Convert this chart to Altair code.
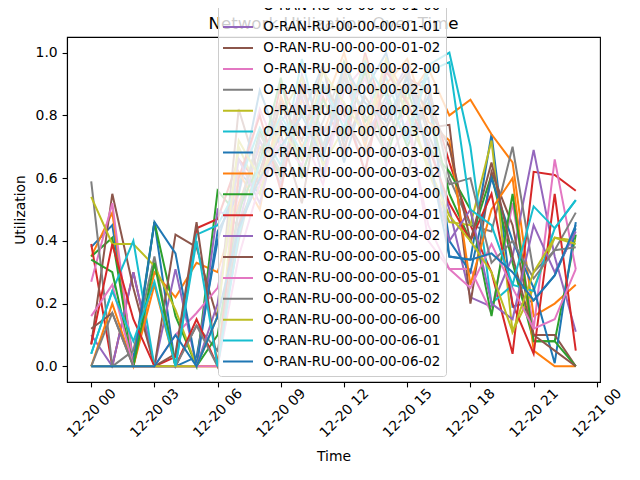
import pandas as pd
import altair as alt

# hourly samples, 12-20 00:00 .. 12-20 23:00
hours = pd.date_range("2024-12-20 00:00", periods=24, freq="h")

names = [
    "O-RAN-RU-00-00-00-00-00", "O-RAN-RU-00-00-00-00-01", "O-RAN-RU-00-00-00-00-02",
    "O-RAN-RU-00-00-00-01-00", "O-RAN-RU-00-00-00-01-01", "O-RAN-RU-00-00-00-01-02",
    "O-RAN-RU-00-00-00-02-00", "O-RAN-RU-00-00-00-02-01", "O-RAN-RU-00-00-00-02-02",
    "O-RAN-RU-00-00-00-03-00", "O-RAN-RU-00-00-00-03-01", "O-RAN-RU-00-00-00-03-02",
    "O-RAN-RU-00-00-00-04-00", "O-RAN-RU-00-00-00-04-01", "O-RAN-RU-00-00-00-04-02",
    "O-RAN-RU-00-00-00-05-00", "O-RAN-RU-00-00-00-05-01", "O-RAN-RU-00-00-00-05-02",
    "O-RAN-RU-00-00-00-06-00", "O-RAN-RU-00-00-00-06-01", "O-RAN-RU-00-00-00-06-02",
]

ru_00_00 = [0.38, 0.45, 0.02, 0.46, 0.00, 0.03, 0.40, 0.62, 0.55, 0.78, 0.66, 0.90, 0.72, 0.95, 0.80, 0.88, 0.92, 0.35, 0.34, 0.74, 0.19, 0.21, 0.29, 0.44]
ru_00_01 = [0.35, 0.49, 0.00, 0.30, 0.22, 0.33, 0.30, 0.52, 0.70, 0.62, 0.85, 0.74, 0.93, 0.70, 0.98, 0.85, 0.95, 0.80, 0.85, 0.74, 0.65, 0.16, 0.20, 0.26]
ru_00_02 = [0.35, 0.41, 0.00, 0.46, 0.16, 0.00, 0.56, 0.48, 0.75, 0.60, 0.82, 0.66, 0.97, 0.78, 0.88, 0.70, 0.84, 0.55, 0.40, 0.61, 0.33, 0.08, 0.08, 0.42]
ru_01_00 = [0.39, 0.00, 0.30, 0.00, 0.03, 0.44, 0.47, 0.66, 0.58, 0.90, 0.75, 0.86, 0.68, 1.00, 0.78, 0.92, 0.88, 0.65, 0.45, 0.30, 0.04, 0.62, 0.61, 0.56]
ru_01_01 = [0.10, 0.00, 0.30, 0.00, 0.31, 0.00, 0.50, 0.45, 0.72, 0.58, 0.93, 0.74, 0.84, 0.62, 0.96, 0.80, 0.72, 0.50, 0.22, 0.19, 0.35, 0.69, 0.35, 0.11]
ru_01_02 = [0.07, 0.55, 0.25, 0.00, 0.42, 0.38, 0.15, 0.82, 0.60, 0.74, 0.52, 0.90, 0.80, 0.68, 0.84, 0.94, 0.76, 0.77, 0.20, 0.62, 0.45, 0.10, 0.10, 0.00]
ru_02_00 = [0.27, 0.52, 0.00, 0.00, 0.10, 0.17, 0.25, 0.55, 0.82, 0.66, 0.75, 0.58, 0.88, 0.96, 0.64, 0.78, 0.45, 0.31, 0.31, 0.17, 0.52, 0.12, 0.66, 0.31]
ru_02_01 = [0.59, 0.00, 0.05, 0.35, 0.00, 0.13, 0.05, 0.40, 0.68, 0.85, 0.62, 0.78, 0.95, 0.72, 0.86, 0.60, 0.90, 0.60, 0.45, 0.43, 0.70, 0.30, 0.37, 0.49]
ru_02_02 = [0.54, 0.39, 0.39, 0.32, 0.18, 0.00, 0.00, 0.70, 0.55, 0.80, 0.92, 0.64, 0.76, 0.98, 0.70, 0.85, 0.62, 0.46, 0.45, 0.72, 0.11, 0.25, 0.41, 0.40]
ru_03_00 = [0.04, 0.24, 0.40, 0.00, 0.00, 0.42, 0.45, 0.58, 0.76, 0.64, 0.98, 0.70, 0.90, 0.82, 0.92, 0.74, 0.96, 1.00, 0.70, 0.20, 0.26, 0.24, 0.44, 0.53]
ru_03_01 = [0.00, 0.00, 0.00, 0.46, 0.36, 0.00, 0.43, 0.55, 0.88, 0.70, 0.80, 0.96, 0.65, 0.88, 1.00, 0.72, 0.86, 0.40, 0.30, 0.60, 0.40, 0.25, 0.01, 0.46]
ru_03_02 = [0.00, 0.20, 0.00, 0.26, 0.00, 0.00, 0.00, 0.62, 0.50, 0.86, 0.70, 0.82, 1.00, 0.76, 0.90, 0.98, 0.78, 0.72, 0.26, 0.50, 0.60, 0.05, 0.00, 0.00]
ru_04_00 = [0.34, 0.30, 0.00, 0.33, 0.00, 0.00, 0.10, 0.50, 0.65, 0.92, 0.60, 0.85, 0.74, 0.94, 0.66, 0.88, 0.70, 0.62, 0.50, 0.16, 0.55, 0.08, 0.08, 0.00]
ru_04_01 = [0.07, 0.39, 0.15, 0.00, 0.00, 0.15, 0.00, 0.60, 0.80, 0.56, 0.90, 0.68, 0.82, 0.62, 0.94, 0.84, 0.70, 0.52, 0.40, 0.55, 0.20, 0.04, 0.55, 0.05]
ru_04_02 = [0.00, 0.00, 0.00, 0.00, 0.00, 0.00, 0.20, 0.66, 0.52, 0.78, 0.86, 0.60, 0.92, 0.74, 0.84, 0.96, 0.66, 0.40, 0.50, 0.20, 0.15, 0.45, 0.30, 0.43]
ru_05_00 = [0.12, 0.17, 0.00, 0.00, 0.04, 0.46, 0.00, 0.45, 0.62, 0.84, 0.72, 0.96, 0.70, 0.86, 0.76, 0.90, 0.82, 0.70, 0.40, 0.65, 0.35, 0.10, 0.05, 0.00]
ru_05_01 = [0.16, 0.26, 0.00, 0.00, 0.00, 0.00, 0.00, 0.35, 0.58, 0.72, 0.64, 0.88, 0.78, 0.92, 0.70, 0.82, 0.40, 0.31, 0.25, 0.39, 0.25, 0.12, 0.15, 0.31]
ru_05_02 = [0.00, 0.17, 0.00, 0.00, 0.00, 0.13, 0.00, 0.50, 0.74, 0.62, 0.88, 0.70, 0.92, 0.80, 0.68, 0.94, 0.74, 0.58, 0.60, 0.33, 0.40, 0.28, 0.37, 0.38]
ru_06_00 = [0.00, 0.00, 0.00, 0.00, 0.00, 0.00, 0.16, 0.72, 0.60, 0.76, 0.66, 0.94, 0.84, 0.74, 0.98, 0.80, 0.64, 0.48, 0.40, 0.30, 0.11, 0.30, 0.41, 0.39]
ru_06_01 = [0.04, 0.24, 0.08, 0.27, 0.00, 0.40, 0.00, 0.42, 0.65, 0.80, 0.68, 0.90, 0.76, 0.97, 0.86, 0.72, 0.94, 0.97, 0.50, 0.45, 0.26, 0.51, 0.44, 0.53]
ru_06_02 = [0.00, 0.00, 0.00, 0.00, 0.10, 0.00, 0.16, 0.44, 0.60, 0.70, 0.80, 0.66, 0.96, 0.84, 0.78, 0.92, 0.68, 0.35, 0.34, 0.36, 0.30, 0.21, 0.29, 0.45]

series = [ru_00_00, ru_00_01, ru_00_02, ru_01_00, ru_01_01, ru_01_02, ru_02_00,
          ru_02_01, ru_02_02, ru_03_00, ru_03_01, ru_03_02, ru_04_00, ru_04_01,
          ru_04_02, ru_05_00, ru_05_01, ru_05_02, ru_06_00, ru_06_01, ru_06_02]

tab10 = ["#1f77b4", "#ff7f0e", "#2ca02c", "#d62728", "#9467bd",
         "#8c564b", "#e377c2", "#7f7f7f", "#bcbd22", "#17becf"]
colors = [tab10[i % 10] for i in range(len(names))]

x_ticks = ["12-20 00", "12-20 03", "12-20 06", "12-20 09", "12-20 12",
           "12-20 15", "12-20 18", "12-20 21", "12-21 00"]
y_ticks = [0.0, 0.2, 0.4, 0.6, 0.8, 1.0]

rows = []
for k, (name, vals) in enumerate(zip(names, series)):
    for t, v in zip(hours, vals):
        rows.append({"Time": t, "RU": name, "Utilization": v, "order": k})
df = pd.DataFrame(rows)


def dt(label, minutes=0):
    md, hh = label.split(" ")
    m, d = md.split("-")
    return alt.DateTime(year=2024, month=int(m), date=int(d), hours=int(hh), minutes=minutes)


x_domain = [alt.DateTime(year=2024, month=12, date=19, hours=22, minutes=51),
            alt.DateTime(year=2024, month=12, date=21, hours=0, minutes=9)]

font = "DejaVu Sans"

lines = alt.Chart(df).mark_line(strokeWidth=2, clip=True).encode(
    x=alt.X("Time:T",
            scale=alt.Scale(domain=x_domain),
            axis=alt.Axis(values=[dt(s) for s in x_ticks], format="%m-%d %H",
                          labelAngle=315, labelAlign="center", labelBaseline="middle",
                          labelPadding=26, titlePadding=10, labelFlush=False,
                          labelOverlap=False)),
    y=alt.Y("Utilization:Q",
            scale=alt.Scale(domain=[-0.05, 1.05], nice=False, zero=False),
            axis=alt.Axis(values=y_ticks, format=".1f", titlePadding=8)),
    color=alt.Color("RU:N", title=None,
                    scale=alt.Scale(domain=names, range=colors),
                    legend=alt.Legend(orient="none", legendX=151, legendY=-108,
                                      symbolType="M-3,0H3", symbolSize=100,
                                      symbolStrokeWidth=2, symbolOffset=8.3,
                                      labelOffset=18.6, clipHeight=19,
                                      labelFontSize=13.4, labelFont=font,
                                      labelColor="black", labelLimit=400,
                                      padding=5, rowPadding=1.9,
                                      fillColor="rgba(255,255,255,0.8)",
                                      strokeColor="#cccccc", cornerRadius=3)),
    order="order:Q",
)

title = alt.Chart(pd.DataFrame({"t": ["Network Utilization Over Time"]})).mark_text(
    font=font, fontSize=16.7, color="black", baseline="alphabetic", align="center"
).encode(text="t:N", x=alt.value(266.5), y=alt.value(-8))

chart = alt.layer(title, lines).properties(
    width=533, height=345,
    autosize=alt.AutoSizeParams(type="none"),
    padding={"left": 59, "top": 29, "right": 24, "bottom": 90},
).configure_view(
    stroke="black", strokeWidth=1.1
).configure_axis(
    labelFont=font, labelFontSize=13.9, labelColor="black",
    titleFont=font, titleFontSize=13.9, titleFontWeight="normal", titleColor="black",
    domainColor="black", domainWidth=1.1, tickColor="black", tickWidth=1.1,
    tickSize=4.9, labelPadding=4.9, grid=False,
)

chart.save("out.html", embed_options={"renderer": "svg", "actions": False})
